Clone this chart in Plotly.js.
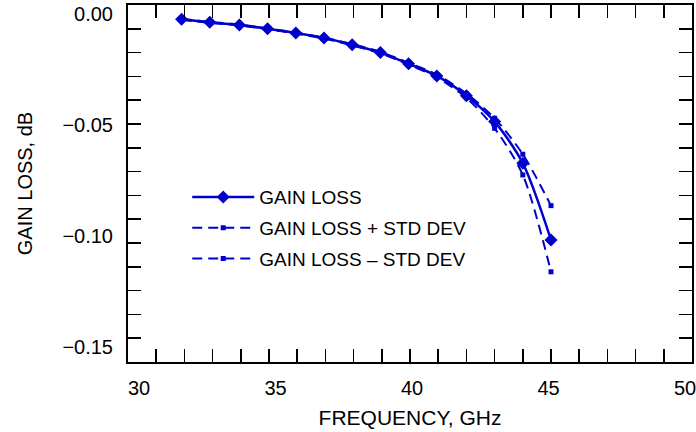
<!DOCTYPE html>
<html>
<head>
<meta charset="utf-8">
<script src="https://cdn.plot.ly/plotly-3.0.1.min.js"></script>
<style>html,body{margin:0;padding:0;background:#fff;}#chart{width:696px;height:432px;}</style>
</head>
<body>
<div id="chart"></div>
<script>
// Data
var freqGHz = [31.9, 32.9, 33.95, 34.95, 35.95, 36.95, 37.95, 38.95, 39.95, 40.95, 42.0, 43.0, 44.0, 45.0];
var gainLoss = [-0.0060, -0.0073, -0.0084, -0.0100, -0.0118, -0.0139, -0.0167, -0.0200, -0.0247, -0.0298, -0.0381, -0.0490, -0.0665, -0.0987];
var gainLossPlusStd = [-0.0058, -0.0071, -0.0082, -0.0098, -0.0116, -0.0137, -0.0164, -0.0197, -0.0243, -0.0292, -0.0372, -0.0476, -0.0627, -0.0843];
var gainLossMinusStd = [-0.0062, -0.0075, -0.0086, -0.0102, -0.0120, -0.0141, -0.0170, -0.0203, -0.0251, -0.0304, -0.0390, -0.0518, -0.0714, -0.1121];
var seriesNames = ['GAIN LOSS', 'GAIN LOSS + STD DEV', 'GAIN LOSS \u2013 STD DEV'];
var xTickVals = [30, 35, 40, 45, 50];
var xTickText = ['30', '35', '40', '45', '50'];
var yTickVals = [0, -0.05, -0.10, -0.15];
var yTickText = ['0.00', '\u22120.05', '\u22120.10', '\u22120.15'];

var blue = '#0000CC';
var fontFam = '"Liberation Sans", Arial, Helvetica, sans-serif';

var traces = [
  {x: freqGHz, y: gainLoss, name: seriesNames[0], legendgroup: 'a', mode: 'lines+markers',
   line: {color: blue, width: 2.5, shape: 'spline', smoothing: 0.8},
   marker: {symbol: 'diamond', size: 10, color: blue}},
  {x: freqGHz, y: gainLossPlusStd, name: seriesNames[1], legendgroup: 'b', mode: 'lines+markers',
   line: {color: blue, width: 2, dash: '10px,6px', shape: 'spline', smoothing: 0.8},
   marker: {symbol: 'square', size: 5, color: blue}},
  {x: freqGHz, y: gainLossMinusStd, name: seriesNames[2], legendgroup: 'c', mode: 'lines+markers',
   line: {color: blue, width: 2, dash: '10px,6px', shape: 'spline', smoothing: 0.8},
   marker: {symbol: 'square', size: 5, color: blue}},
  // invisible helpers so the label axes get drawn
  {x: xTickVals, y: [-0.05, -0.05, -0.05, -0.05, -0.05], xaxis: 'x2', yaxis: 'y', mode: 'none', showlegend: false, hoverinfo: 'skip'},
  {x: [40, 40, 40, 40], y: yTickVals, xaxis: 'x', yaxis: 'y2', mode: 'none', showlegend: false, hoverinfo: 'skip'}
];

var tickFont = {family: fontFam, size: 20, color: '#000'};

var layout = {
  width: 696, height: 432,
  margin: {l: 128, r: 4, t: 5, b: 70, pad: 0},
  paper_bgcolor: '#fff', plot_bgcolor: '#fff',
  font: {family: fontFam, size: 20, color: '#000'},
  showlegend: true,
  legend: {x: 0.105, y: 0.515, xanchor: 'left', yanchor: 'top', bgcolor: 'rgba(0,0,0,0)',
           font: {family: fontFam, size: 19, color: '#000'}, tracegroupgap: 3, itemwidth: 62},
  xaxis: {
    range: [30, 50], tickmode: 'array', tickvals: xTickVals, showticklabels: false,
    ticks: 'inside', ticklen: 13, tickwidth: 1.5, tickcolor: '#000',
    minor: {dtick: 1, ticks: 'inside', ticklen: 7, tickwidth: 1.5, tickcolor: '#000', showgrid: false},
    showline: true, linecolor: '#000', linewidth: 2, mirror: 'allticks',
    showgrid: false, zeroline: false
  },
  yaxis: {
    range: [-0.15, 0], tickmode: 'array', tickvals: yTickVals, showticklabels: false,
    ticks: 'inside', ticklen: 13, tickwidth: 1.5, tickcolor: '#000',
    minor: {dtick: 0.01, ticks: 'inside', ticklen: 7, tickwidth: 1.5, tickcolor: '#000', showgrid: false},
    showline: true, linecolor: '#000', linewidth: 2, mirror: 'allticks',
    showgrid: false, zeroline: false
  },
  // label axes (the reference prints its labels on a slightly compressed scale)
  xaxis2: {
    overlaying: 'x', anchor: 'y', side: 'bottom',
    range: [29.597, 50.256], tickmode: 'array', tickvals: xTickVals, ticktext: xTickText,
    ticks: '', showline: false, showgrid: false, zeroline: false,
    tickfont: tickFont, ticklabelstandoff: 12, ticklabeloverflow: 'allow',
    title: {text: 'FREQUENCY, GHz', font: {family: fontFam, size: 21, color: '#000'}, standoff: 12}
  },
  yaxis2: {
    overlaying: 'y', anchor: 'x', side: 'left',
    range: [-0.15676, 0.00405], tickmode: 'array', tickvals: yTickVals, ticktext: yTickText,
    ticks: '', showline: false, showgrid: false, zeroline: false,
    tickfont: tickFont, ticklabelstandoff: 14, ticklabeloverflow: 'allow',
    title: {text: 'GAIN LOSS, dB', font: {family: fontFam, size: 20, color: '#000'}, standoff: 24}
  }
};

Plotly.newPlot('chart', traces, layout, {displayModeBar: false, staticPlot: true});
</script>
</body>
</html>
